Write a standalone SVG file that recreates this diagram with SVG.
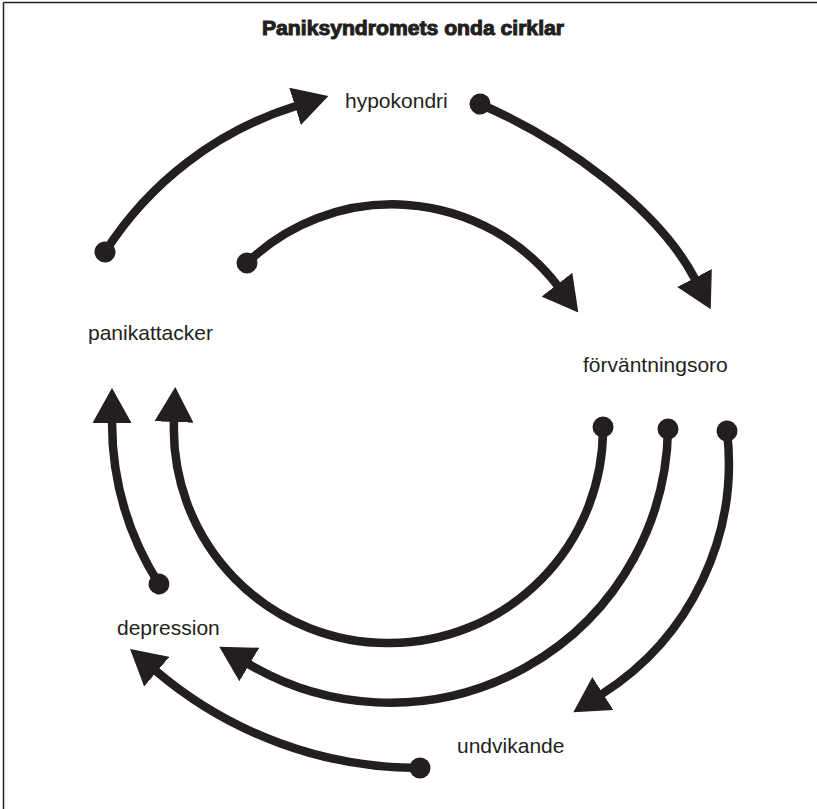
<svg xmlns="http://www.w3.org/2000/svg" width="817" height="809" viewBox="0 0 817 809">
  <style>
    .lbl { font-family: "Liberation Sans", Arial, sans-serif; font-size: 21px; fill: #231f20; }
    .title { font-family: "Liberation Sans", Arial, sans-serif; font-size: 20px; font-weight: bold; fill: #231f20; stroke: #231f20; stroke-width: 1; }
    .conn { fill: none; stroke: #231f20; stroke-width: 8.5; marker-start: url(#dot); marker-end: url(#arrow); }
  </style>
  <defs>
    <marker id="arrow" markerUnits="userSpaceOnUse" viewBox="0 0 35 39" markerWidth="35" markerHeight="39" refX="1" refY="19.5" orient="auto">
      <path d="M0,0 L35,19.5 L0,39 Z" fill="#231f20"/>
    </marker>
    <marker id="dot" markerUnits="userSpaceOnUse" viewBox="0 0 24 24" markerWidth="24" markerHeight="24" refX="12" refY="12" orient="auto">
      <circle cx="12" cy="12" r="10.5" fill="#231f20"/>
    </marker>
  </defs>
  <rect width="817" height="809" fill="#ffffff"/>
  <g id="frame" stroke="#231f20" stroke-width="1.5" fill="none">
    <line x1="3.5" y1="2.5" x2="817" y2="2.5"/>
    <line x1="3.5" y1="2.5" x2="3.5" y2="809"/>
  </g>
  <g id="title">
    <text class="title" x="413" y="35" text-anchor="middle" textLength="302" lengthAdjust="spacingAndGlyphs">Paniksyndromets onda cirklar</text>
  </g>
  <g id="connectors">
    <path class="conn" d="M105,252 A350,350 0 0 1 296,106"/>
    <path class="conn" d="M247,263 A209,209 0 0 1 557.5,285.5"/>
    <path class="conn" d="M480,104 C563,140 658,208 695,279"/>
    <path class="conn" d="M603,427 A214,214 0 0 1 390,643 A214,214 0 0 1 174,421"/>
    <path class="conn" d="M668,429 A278,278 0 0 1 248.5,664"/>
    <path class="conn" d="M727,431 A274,274 0 0 1 602,694"/>
    <path class="conn" d="M420,768 A408,408 0 0 1 156,671"/>
    <path class="conn" d="M159,584 A303,303 0 0 1 112,422"/>
  </g>
  <g id="hypokondri"><text class="lbl" x="345" y="108">hypokondri</text></g>
  <g id="panikattacker"><text class="lbl" x="88" y="340">panikattacker</text></g>
  <g id="forvantningsoro"><text class="lbl" x="583" y="372">förväntningsoro</text></g>
  <g id="depression"><text class="lbl" x="117" y="635">depression</text></g>
  <g id="undvikande"><text class="lbl" x="457" y="753">undvikande</text></g>
</svg>
